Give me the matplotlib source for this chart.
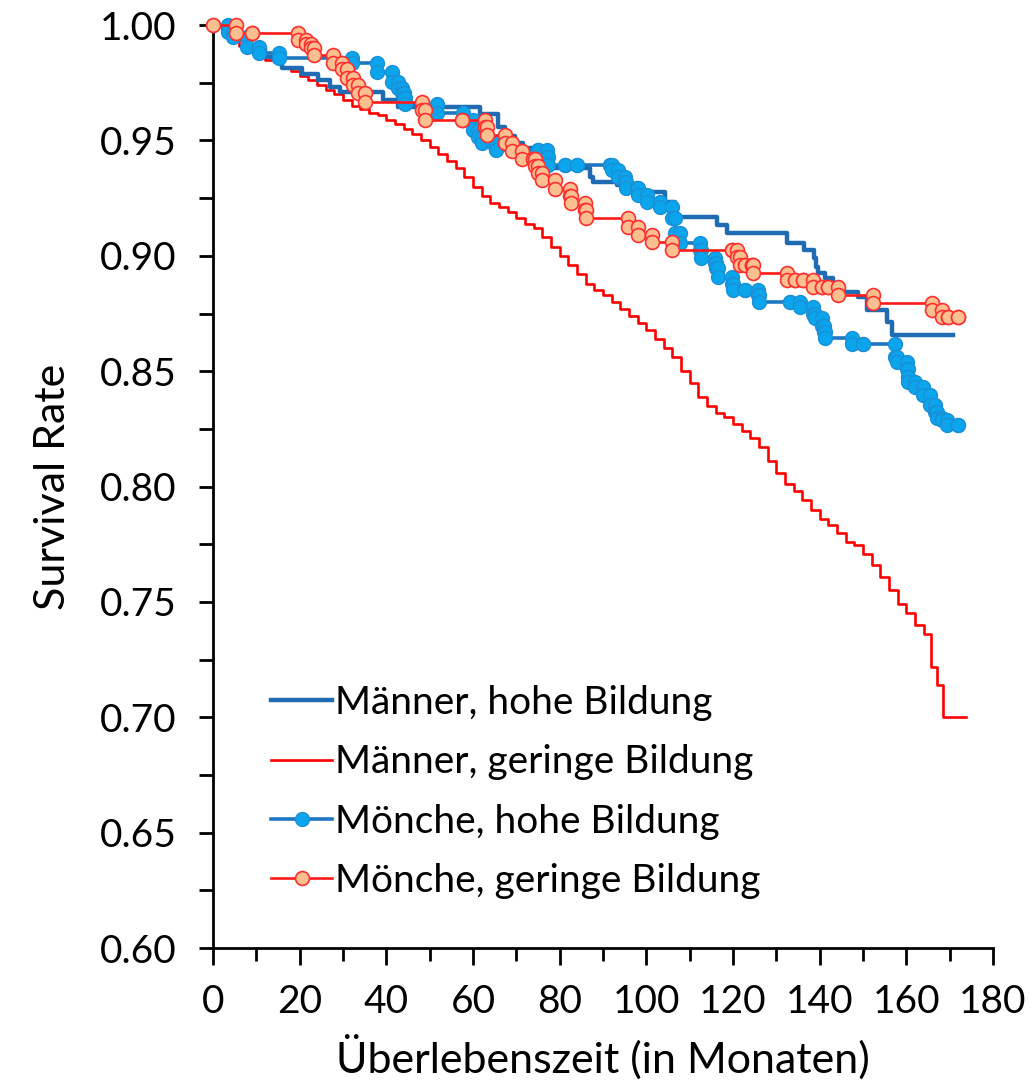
import matplotlib
matplotlib.use('Agg')
import matplotlib.pyplot as plt
import numpy as np

plt.rcParams['font.family'] = ['Lato', 'DejaVu Sans']

# Männer, geringe Bildung (Kaplan-Meier, Zeit in Monaten / Überlebensrate)
mg_t = [0, 2, 4, 6, 8, 10, 12, 14, 16, 18, 20, 22, 24, 26, 28, 30, 32, 34, 36, 38,
        40, 42, 44, 46, 48, 50, 52, 54, 56, 58, 60, 62, 64, 66, 68, 70, 72, 74, 76, 78,
        80, 82, 84, 86, 88, 90, 92, 94, 96, 98, 100, 102, 104, 106, 108, 110, 112, 114,
        116, 118, 120, 122, 124, 126, 128, 130, 132, 134, 136, 138, 140, 142, 144, 146,
        148, 150, 152, 154, 156, 158, 160, 162, 164, 165.6, 167.1, 168.4, 173.8]
mg_s = [1.000, 0.997, 0.994, 0.991, 0.989, 0.987, 0.985, 0.984, 0.982, 0.980, 0.978,
        0.976, 0.974, 0.972, 0.970, 0.9675, 0.965, 0.9635, 0.962, 0.961, 0.959, 0.957,
        0.955, 0.953, 0.950, 0.947, 0.944, 0.941, 0.938, 0.934, 0.930, 0.926, 0.923,
        0.921, 0.919, 0.9165, 0.914, 0.912, 0.908, 0.904, 0.900, 0.896, 0.892, 0.888,
        0.885, 0.883, 0.880, 0.877, 0.874, 0.871, 0.868, 0.864, 0.860, 0.856, 0.850,
        0.845, 0.839, 0.835, 0.832, 0.830, 0.827, 0.824, 0.821, 0.817, 0.811, 0.806,
        0.801, 0.798, 0.794, 0.790, 0.786, 0.7835, 0.780, 0.776, 0.7745, 0.771, 0.766,
        0.761, 0.755, 0.749, 0.745, 0.740, 0.736, 0.722, 0.714, 0.700, 0.700]

# Männer, hohe Bildung
mh_t = [0, 3, 5, 8, 12, 16, 20.5, 24.2, 27, 29.3, 39.2, 42.7, 61.6, 65.8, 67.5, 69.7,
        71.5, 74.8, 77.3, 87, 87.7, 93.2, 97, 104.3, 106.6, 116.3, 118.6, 132.4, 136.4,
        138.8, 139.2, 139.6, 141.2, 143, 145, 148.8, 151, 155.5, 156.7, 170.8]
mh_s = [1.000, 0.997, 0.994, 0.990, 0.986, 0.9814, 0.979, 0.976, 0.973, 0.971, 0.9675,
        0.9645, 0.9615, 0.956, 0.952, 0.949, 0.9467, 0.9425, 0.938, 0.934, 0.932, 0.9307,
        0.9277, 0.9235, 0.917, 0.9133, 0.910, 0.9055, 0.9025, 0.899, 0.895, 0.8925,
        0.8905, 0.887, 0.8843, 0.882, 0.8765, 0.8713, 0.8657, 0.8657]

# Mönche, hohe Bildung
ph_t = [0, 3.5, 4.6, 7.8, 10.6, 15.2, 32.0, 37.8, 41.3, 42.7, 43.6, 44.0, 44.3, 51.7,
        57.7, 60.0, 61.2, 62.0, 64.6, 65.3, 75.0, 77.0, 77.3, 81.2, 84.0, 91.6, 92.0,
        93.5, 95.0, 95.3, 97.8, 98.0, 100.1, 103.2, 106.0, 106.6, 107.8, 112.4, 112.6,
        115.8, 116.2, 116.6, 119.8, 120.0, 122.8, 125.8, 126.0, 133.2, 135.5, 138.5,
        138.9, 140.5, 140.9, 141.2, 147.5, 150.0, 157.4, 157.9, 160.2, 160.3, 160.4,
        162.0, 163.9, 165.5, 166.6, 167.2, 168.2, 169.4, 171.9]
ph_s = [1.000, 0.997, 0.995, 0.9905, 0.988, 0.9857, 0.9835, 0.9797, 0.9755, 0.9727,
        0.9705, 0.9683, 0.966, 0.962, 0.9588, 0.9545, 0.9515, 0.949, 0.949, 0.946, 0.946,
        0.943, 0.9395, 0.9395, 0.9395, 0.9395, 0.937, 0.934, 0.932, 0.9295, 0.9295,
        0.9265, 0.9235, 0.921, 0.9165, 0.910, 0.9055, 0.9025, 0.899, 0.897, 0.8947,
        0.891, 0.888, 0.885, 0.885, 0.883, 0.880, 0.880, 0.8778, 0.875, 0.873, 0.8697,
        0.867, 0.8644, 0.862, 0.862, 0.856, 0.854, 0.851, 0.8475, 0.8455, 0.843, 0.8397,
        0.8355, 0.8323, 0.8297, 0.829, 0.8267, 0.8267]

# Mönche, geringe Bildung
pg_t = [0, 5.3, 9.0, 19.6, 21.5, 22.6, 23.2, 27.6, 29.8, 31.0, 32.2, 33.4, 35.0, 48.2,
        49.0, 57.5, 62.8, 63.3, 67.4, 69.0, 71.3, 73.8, 74.3, 75.0, 75.9, 78.9, 82.4,
        82.6, 85.9, 86.1, 95.8, 98.0, 101.3, 106.0, 119.8, 120.9, 121.6, 122.8, 124.4,
        124.6, 132.4, 134.3, 136.2, 138.5, 140.5, 141.9, 144.2, 152.3, 165.9, 168.3,
        169.6, 171.9]
pg_s = [1.000, 0.9965, 0.9965, 0.9935, 0.992, 0.990, 0.987, 0.9835, 0.981, 0.977,
        0.974, 0.9705, 0.9667, 0.963, 0.959, 0.959, 0.956, 0.9525, 0.949, 0.9455, 0.942,
        0.942, 0.939, 0.936, 0.933, 0.929, 0.926, 0.923, 0.920, 0.9165, 0.9125, 0.909,
        0.906, 0.9025, 0.9025, 0.8995, 0.896, 0.896, 0.896, 0.8925, 0.8895, 0.8895,
        0.8895, 0.8865, 0.8865, 0.8865, 0.883, 0.8795, 0.8765, 0.8735, 0.8735, 0.8735]

labels = ['Männer, hohe Bildung', 'Männer, geringe Bildung',
          'Mönche, hohe Bildung', 'Mönche, geringe Bildung']


def step_corners(t, s):
    # Eckpunkte der Treppenfunktion: vor und nach jedem Sprung
    xs, ys = [t[0]], [s[0]]
    for i in range(1, len(t)):
        xs += [t[i], t[i]]
        ys += [s[i - 1], s[i]]
    return xs, ys


fig = plt.figure(figsize=(10.3, 10.91), dpi=100)
ax = fig.add_axes([0.2068, 0.131, 0.7572, 0.846])

ax.step(mh_t, mh_s, where='post', color='#1f6cb3', lw=3.2, label=labels[0], zorder=3)
ax.step(mg_t, mg_s, where='post', color='#ff0000', lw=1.9, label=labels[1], zorder=2)

x, y = step_corners(ph_t, ph_s)
ax.plot(x, y, color='#1d78c1', lw=2.6, marker='o', ms=10, mfc='#0aa5ec',
        mec='#1b8fd6', mew=1.0, label=labels[2], clip_on=False, zorder=4)
x, y = step_corners(pg_t, pg_s)
ax.plot(x, y, color='#ff1a1a', lw=1.9, marker='o', ms=10, mfc='#fcbf90',
        mec='#ff3030', mew=1.2, label=labels[3], clip_on=False, zorder=5)

ax.set_xlim(0, 180)
ax.set_ylim(0.60, 1.00)
ax.set_xticks(np.arange(0, 181, 20))
ax.set_xticks(np.arange(0, 181, 10), minor=True)
ax.set_yticks(np.arange(0.60, 1.001, 0.05))
ax.set_yticks(np.arange(0.60, 1.001, 0.025), minor=True)
ax.yaxis.set_major_formatter(matplotlib.ticker.FormatStrFormatter('%.2f'))

for side in ['top', 'right']:
    ax.spines[side].set_visible(False)
for side in ['left', 'bottom']:
    ax.spines[side].set_linewidth(2.0)
ax.tick_params(axis='both', which='both', direction='out', width=2.0, labelsize=28)
ax.tick_params(axis='y', which='both', length=10, pad=16)
ax.tick_params(axis='x', which='major', length=12, pad=14)
ax.tick_params(axis='x', which='minor', length=9)

ax.set_xlabel('Überlebenszeit (in Monaten)', fontsize=31, labelpad=10)
ax.set_ylabel('Survival Rate', fontsize=31, labelpad=20)

ax.legend(loc='lower left', bbox_to_anchor=(0.05, 0.032), frameon=False, fontsize=28,
          handlelength=1.55, handletextpad=0.08, labelspacing=0.6, borderpad=0)

fig.savefig('out.png', dpi=100)
